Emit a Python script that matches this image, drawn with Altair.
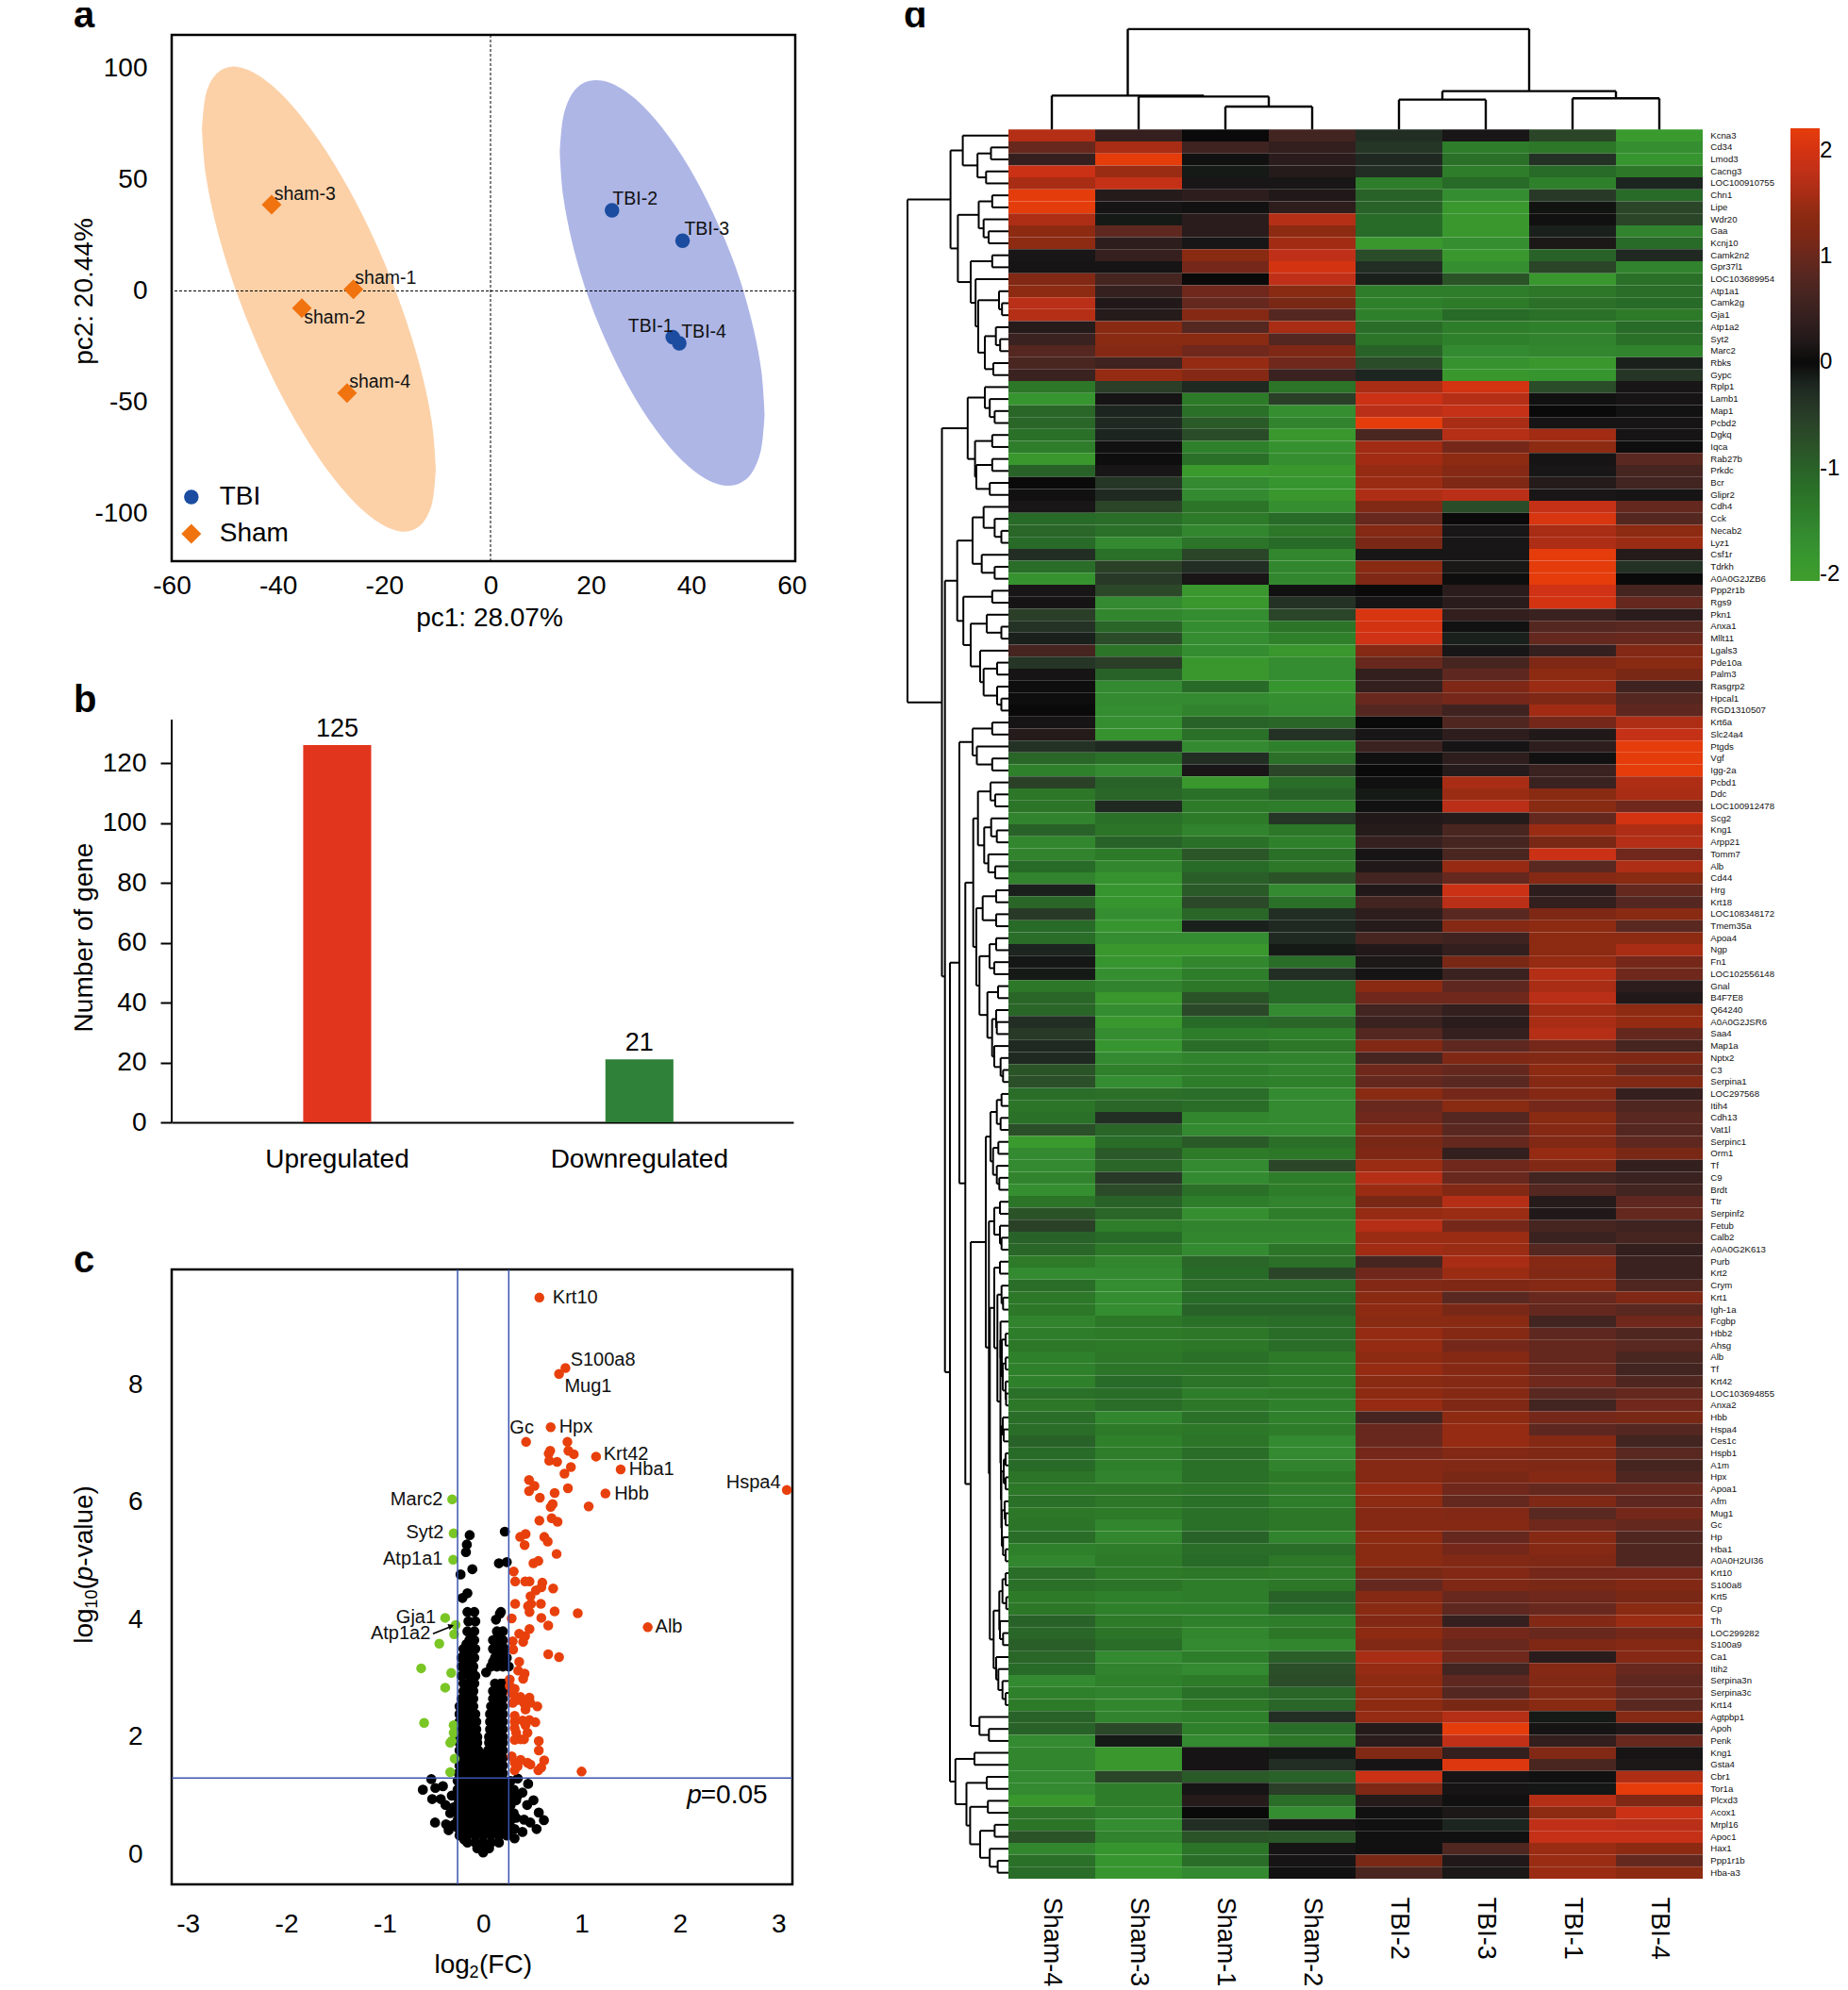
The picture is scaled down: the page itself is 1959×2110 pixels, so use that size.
import altair as alt
import pandas as pd

FONT = "Liberation Sans"

# ---------- panel a ----------
pca_names = ["sham-1", "sham-2", "sham-3", "sham-4", "TBI-1", "TBI-2", "TBI-3", "TBI-4"]
pca_x = [-25.8, -35.5, -41.2, -27.0, 36.3, 24.2, 38.25, 37.6]
pca_y = [0.7, -7.8, 38.8, -46.0, -20.8, 36.3, 22.6, -23.6]
pca_lab_x = [-25.5, -35.1, -40.7, -26.6, 27.4, 24.3, 38.6, 38.0]
pca_lab_y = [5.7, -12.0, 43.5, -40.9, -15.9, 41.2, 27.8, -18.3]

sham_ell_x = [-54.3, -53.55, -51.35, -47.85, -43.3, -38.0, -32.3, -26.6, -21.3, -16.75, -13.25, -11.05, -10.3]
sham_ell_top = [72.7, 88.6, 98.2, 100.9, 96.4, 85.2, 67.8, 45.6, 20.0, -7.2, -34.1, -59.0, -80.1]
sham_ell_bot = [72.7, 51.6, 26.7, -0.25, -27.4, -53.0, -75.2, -92.6, -103.8, -108.3, -105.6, -96.0, -80.1]
tbi_ell_x = [13.8, 14.5, 16.5, 19.7, 24.0, 28.9, 34.2, 39.5, 44.4, 48.7, 51.9, 53.9, 54.6]
tbi_ell_top = [62.4, 78.5, 89.5, 94.5, 93.5, 86.3, 73.4, 55.8, 34.7, 11.5, -12.4, -35.1, -55.2]
tbi_ell_bot = [62.4, 42.3, 19.6, -4.3, -27.5, -48.6, -66.2, -79.1, -86.3, -87.3, -82.3, -71.3, -55.2]

# ---------- panel b ----------
bar_cats = ["Upregulated", "Downregulated"]
bar_vals = [126, 21]
bar_labels = ["125", "21"]
bar_cols = ["#E2351E", "#2F8139"]

# ---------- panel c ----------
red_names = ["Krt10", "S100a8", "Mug1", "Hpx", "Gc", "Krt42", "Hba1", "Hbb", "Hspa4", "Alb"]
red_lab_x = [0.706, 0.886, 0.826, 0.771, 0.27, 1.222, 1.482, 1.332, 2.469, 1.748]
red_lab_y = [9.49, 8.43, 7.97, 7.28, 7.27, 6.82, 6.56, 6.15, 6.34, 3.87]
red_x = [0.571, 0.836, 0.771, 0.686, 0.436, 1.147, 1.397, 1.242, 3.085, 1.672,
         0.856, 0.681, 0.666, 0.866, 0.921, 0.671, 0.751, 0.891, 0.826, 0.466, 0.521, 0.466, 0.726, 0.861, 0.576,
         0.706, 0.686, 1.072, 0.571, 0.696, 0.756, 0.431, 0.376, 0.421, 0.621, 0.656, 0.746, 0.561, 0.511, 0.31,
         0.325, 0.426, 0.471, 0.601, 0.591, 0.536, 0.711, 0.481, 0.325, 0.456, 0.486, 0.586, 0.471, 0.726, 0.961,
         0.29, 0.591, 0.661, 0.471, 0.366, 0.426, 0.30, 0.406, 0.305, 0.661, 0.771, 0.366, 0.356, 0.421, 0.406,
         0.27, 0.27, 0.32, 0.29, 0.335, 0.35, 0.30, 0.38, 0.47, 0.415, 0.48, 0.55, 0.43, 0.32, 0.32, 0.40, 0.47,
         0.53, 0.32, 0.43, 0.45, 0.38, 0.32, 0.335, 0.415, 0.565, 0.565, 0.29, 0.32, 0.38, 0.45, 0.48, 0.62, 0.59,
         0.56, 0.32, 0.35, 1.0]
red_y = [9.49, 8.29, 8.19, 7.28, 7.03, 6.78, 6.56, 6.15, 6.21, 3.87,
         7.03, 6.88, 6.83, 6.88, 6.82, 6.71, 6.69, 6.60, 6.49, 6.38, 6.28, 6.19, 6.16, 6.24, 6.08,
         5.97, 5.92, 5.93, 5.69, 5.73, 5.67, 5.46, 5.41, 5.27, 5.41, 5.33, 5.12, 5.0, 4.96, 4.82,
         4.65, 4.65, 4.65, 4.63, 4.55, 4.50, 4.53, 4.40, 4.27, 4.23, 4.27, 4.27, 4.13, 4.14, 4.11,
         4.02, 4.03, 3.90, 3.84, 3.76, 3.72, 3.63, 3.62, 3.49, 3.41, 3.36, 3.28, 3.13, 3.08, 2.99,
         2.98, 2.87, 2.82, 2.74, 2.68, 2.63, 2.58, 2.68, 2.67, 2.58, 2.58, 2.52, 2.47, 2.36, 2.26, 2.28, 2.29,
         2.25, 2.15, 2.2, 2.07, 1.96, 1.95, 2.07, 1.96, 1.93, 1.77, 1.67, 1.56, 1.61, 1.56, 1.53, 1.6, 1.48,
         1.43, 1.43, 1.5, 1.41]
green_x = [-0.315, -0.30, -0.305, -0.386, -0.28, -0.295, -0.446, -0.63, -0.325, -0.386, -0.60, -0.30, -0.30, -0.32, -0.335, -0.29, -0.335]
green_y = [6.05, 5.47, 5.02, 4.03, 3.91, 3.75, 3.59, 3.17, 3.09, 2.84, 2.24, 2.2, 2.07, 1.93, 1.9, 1.63, 1.4]
green_names = ["Marc2", "Syt2", "Atp1a1", "Gja1", "Atp1a2"]
green_lab_x = [-0.41, -0.40, -0.41, -0.48, -0.536]
green_lab_y = [6.05, 5.49, 5.04, 4.04, 3.76]

black_rows = [
    (0.03, [0.0]),
    (0.10, [-0.06, 0.0, 0.06]),
    (0.20, [-0.16, -0.08, 0.0, 0.08, 0.16]),
    (0.32, [-0.24, -0.16, -0.08, 0.0, 0.08, 0.16, 0.24]),
    (0.45, [-0.26, -0.18, -0.10, -0.02, 0.06, 0.14, 0.22, 0.28]),
    (0.58, [-0.26, -0.18, -0.10, -0.02, 0.06, 0.14, 0.22, 0.28]),
    (0.71, [-0.26, -0.18, -0.10, -0.02, 0.06, 0.14, 0.22, 0.28]),
    (0.84, [-0.26, -0.18, -0.10, -0.02, 0.06, 0.14, 0.22, 0.28]),
    (0.97, [-0.26, -0.18, -0.10, -0.02, 0.06, 0.14, 0.22, 0.28]),
    (1.10, [-0.26, -0.18, -0.10, -0.02, 0.06, 0.14, 0.22, 0.28]),
    (1.25, [-0.26, -0.18, -0.10, -0.02, 0.06, 0.14, 0.22, 0.28]),
    (1.38, [-0.25, -0.18, -0.10, -0.02, 0.06, 0.14, 0.20]),
    (1.51, [-0.24, -0.18, -0.10, -0.02, 0.06, 0.14, 0.20]),
    (1.64, [-0.24, -0.18, -0.10, -0.02, 0.06, 0.14, 0.20]),
    (1.77, [-0.24, -0.17, -0.10, -0.05, 0.05, 0.12, 0.20]),
    (1.90, [-0.24, -0.17, -0.10, -0.06, 0.06, 0.12, 0.20]),
    (2.00, [-0.24, -0.17, -0.10, -0.06, 0.06, 0.13, 0.20]),
    (2.13, [-0.24, -0.17, -0.10, -0.07, 0.07, 0.13, 0.20]),
    (2.26, [-0.24, -0.17, -0.10, -0.07, 0.07, 0.13, 0.20]),
    (2.39, [-0.24, -0.17, -0.10, -0.08, 0.07, 0.13, 0.20]),
    (2.52, [-0.24, -0.17, -0.10, 0.08, 0.14, 0.20]),
    (2.65, [-0.22, -0.16, -0.10, 0.10, 0.16, 0.20]),
    (2.78, [-0.20, -0.14, -0.10, 0.10, 0.16, 0.20]),
    (2.91, [-0.20, -0.14, -0.09, 0.12, 0.18, 0.22]),
    (3.04, [-0.22, -0.14, -0.08]),
    (3.20, [-0.22, -0.15, -0.10, 0.08, 0.14, 0.20, 0.26]),
    (3.35, [-0.22, -0.16, -0.09, 0.12, 0.18, 0.24]),
    (3.50, [-0.20, -0.13, -0.08, 0.10, 0.16, 0.22]),
    (3.65, [-0.14, -0.09, 0.10, 0.17, 0.20]),
    (3.80, [-0.16, -0.09, 0.14, 0.20]),
    (3.97, [-0.15, -0.08]),
    (4.13, [-0.16, -0.09, 0.18]),
    # staggered rows between the ones above
    (0.39, [-0.22, -0.14, -0.06, 0.02, 0.10, 0.18, 0.26]),
    (0.52, [-0.22, -0.14, -0.06, 0.02, 0.10, 0.18, 0.25]),
    (0.65, [-0.22, -0.14, -0.06, 0.02, 0.10, 0.18, 0.25]),
    (0.78, [-0.22, -0.14, -0.06, 0.02, 0.10, 0.18, 0.25]),
    (0.91, [-0.22, -0.14, -0.06, 0.02, 0.10, 0.18, 0.25]),
    (1.04, [-0.22, -0.14, -0.06, 0.02, 0.10, 0.18, 0.25]),
    (1.18, [-0.22, -0.14, -0.06, 0.02, 0.10, 0.18, 0.25]),
    (1.31, [-0.22, -0.14, -0.06, 0.02, 0.10, 0.18]),
    (1.45, [-0.21, -0.14, -0.06, 0.02, 0.10, 0.18]),
    (1.58, [-0.21, -0.14, -0.06, 0.02, 0.10, 0.18]),
    (1.71, [-0.21, -0.14, -0.07, 0.03, 0.09, 0.17]),
    (1.84, [-0.20, -0.13, -0.08, 0.09, 0.16]),
    (2.07, [-0.20, -0.13, 0.10, 0.17]),
    (2.20, [-0.20, -0.13, 0.10, 0.17]),
    (2.33, [-0.20, -0.13, 0.10, 0.17]),
    (2.46, [-0.20, -0.13, 0.11, 0.17]),
    (2.59, [-0.20, -0.13, 0.12, 0.18]),
    (2.72, [-0.18, -0.12, 0.13, 0.18]),
    (2.85, [-0.17, -0.12, 0.15, 0.20]),
    (3.12, [-0.18, -0.11]),
    (3.28, [-0.19, -0.12, 0.10, 0.16, 0.22]),
    (3.43, [-0.19, -0.12, 0.14, 0.20]),
    (3.58, [-0.17, -0.11, 0.13, 0.19]),
    (3.72, [-0.12, 0.15]),
]
black_x = [-0.527, -0.613, -0.486, -0.409, -0.518, -0.431, -0.383, -0.319, -0.335, -0.489, -0.377, -0.351, -0.192,
           0.319, 0.399, 0.319, 0.415, 0.543, 0.617, 0.565, 0.511, 0.447, 0.399, 0.457, 0.351, 0.335, 0.335, 0.479,
           -0.30, -0.30, 0.31, 0.31, 0.35, 0.03,
           -0.21, -0.16, -0.23, -0.11, -0.175, -0.166, -0.137, 0.22, 0.16, 0.24, 0.13, 0.17]
black_y = [1.28, 1.10, 1.13, 1.16, 0.94, 0.94, 0.84, 1.0, 0.70, 0.54, 0.51, 0.41, 0.25,
           0.27, 0.38, 0.43, 0.59, 0.43, 0.58, 0.71, 0.92, 0.84, 1.05, 1.2, 1.29, 0.92, 0.62, 0.54,
           0.8, 0.5, 0.7, 1.1, 1.0, 3.1,
           4.37, 4.45, 4.77, 4.86, 5.15, 5.28, 5.44, 5.5, 4.96, 4.98, 4.0, 4.1]
vlines = [-0.26, 0.26]
p_line = [1.3]

# ---------- panel d ----------
samples = ["Sham-4", "Sham-3", "Sham-1", "Sham-2", "TBI-2", "TBI-3", "TBI-1", "TBI-4"]
genes = """Kcna3 Cd34 Lmod3 Cacng3 LOC100910755 Chn1 Lipe Wdr20 Gaa Kcnj10 Camk2n2 Gpr37l1 LOC103689954 Atp1a1 Camk2g Gja1 Atp1a2 Syt2 Marc2 Rbks Gypc
Rplp1 Lamb1 Map1 Pcbd2 Dgkq Iqca Rab27b Prkdc Bcr Glipr2 Cdh4 Cck Necab2 Lyz1 Csf1r Tdrkh A0A0G2JZB6 Ppp2r1b Rgs9 Pkn1 Anxa1 Mllt11 Lgals3 Pde10a Palm3 Rasgrp2 Hpcal1 RGD1310507 Krt6a Slc24a4 Ptgds Vgf Igg-2a
Pcbd1 Ddc LOC100912478 Scg2 Kng1 Arpp21 Tomm7 Alb Cd44 Hrg Krt18 LOC108348172 Tmem35a Apoa4 Ngp Fn1 LOC102556148 Gnal B4F7E8 Q64240 A0A0G2JSR6 Saa4 Map1a Nptx2 C3 Serpina1 LOC297568 Itih4 Cdh13 Vat1l Serpinc1
Orm1 Tf C9 Brdt Ttr Serpinf2 Fetub Calb2 A0A0G2K613 Purb Krt2 Crym Krt1 Igh-1a Fcgbp Hbb2 Ahsg Alb Tf Krt42 LOC103694855 Anxa2 Hbb Hspa4 Ces1c Hspb1 A1m Hpx Apoa1 Afm Mug1
Gc Hp Hba1 A0A0H2UI36 Krt10 S100a8 Krt5 Cp Th LOC299282 S100a9 Ca1 Itih2 Serpina3n Serpina3c Krt14 Agtpbp1 Apoh Penk Kng1 Gsta4 Cbr1 Tor1a Plcxd3 Acox1 Mrpl16 Apoc1 Hax1 Ppp1r1b Hba-a3""".split()

heat_rows = [
[1.7,.45,0,.6,-.3,.1,-.6,-1.9],[1.0,1.6,.55,.4,-.4,-1.4,-1.3,-1.7],[.45,2.2,.05,.3,-.25,-1.2,-.35,-1.8],
[1.9,1.5,-.1,.25,-.3,-1.4,-1.1,-1.3],[1.6,1.85,.1,.1,-1.4,-1.1,-1.45,-.2],[2.2,.25,.35,.2,-1.0,-1.65,-.45,-1.1],
[2.2,.08,.05,.35,-1.0,-1.85,-.05,-.6],[1.65,-.1,.3,1.7,-1.1,-1.85,.05,-.6],[1.4,.9,.3,1.4,-1.1,-1.85,-.15,-1.5],
[1.4,.35,.1,1.55,-1.85,-1.7,.15,-1.1],[.1,.45,1.35,1.8,-.7,-1.85,-1.0,-.25],[.08,.08,1.1,2.0,-.3,-1.7,-.6,-1.5],
[1.25,.65,0,1.8,-.15,-.8,-1.85,-1.2],[1.4,.45,1.05,1.35,-1.4,-1.4,-1.3,-1.15],[1.75,.2,.95,1.15,-1.45,-1.35,-1.2,-1.1],
[1.7,.25,1.3,.8,-1.45,-1.1,-1.2,-1.35],[.25,1.35,.8,1.6,-1.15,-1.4,-1.45,-1.1],[.5,1.35,1.35,.8,-1.25,-1.45,-1.5,-1.2],
[.8,1.3,1.05,1.2,-1.0,-1.6,-1.55,-1.5],[.7,.55,1.45,1.05,-.7,-1.75,-1.85,-.15],[.5,1.45,1.3,.5,-.2,-1.85,-1.8,-.4],
# Rplp1
[-1.3,-.5,-.25,-1.25,1.6,2.0,-.7,.1],[-1.8,.08,-1.35,-.5,1.9,1.7,.05,.08],[-1.05,-.2,-1.2,-1.7,1.75,1.85,0,.06],
[-1.05,-.25,-.9,-1.5,2.2,1.6,.08,.08],[-1.2,-.2,-.7,-1.85,.7,1.7,1.55,.08],[-1.4,.05,-1.45,-1.75,1.55,1.1,1.4,.03],
[-1.85,.03,-1.2,-1.7,1.55,1.4,.08,.85],[-1.0,.1,-1.9,-1.85,1.45,1.3,.1,.65],[0,-.4,-1.6,-1.8,1.5,1.2,.25,.6],
[.05,-.25,-1.6,-1.85,1.65,1.75,.1,.08],[.1,-.6,-1.25,-1.7,1.25,-.7,1.85,.95],[-1.1,-1.15,-1.35,-1.1,1.0,0,2.05,.8],
[-1.05,-1.2,-1.55,-1.3,1.3,.1,1.6,1.4],[-1.1,-1.6,-1.25,-1.1,1.15,.1,1.65,1.5],[-.3,-1.2,-.6,-1.55,.1,.1,2.2,.25],
[-1.15,-.55,-.3,-1.55,1.35,.12,2.2,-.35],[-1.75,-.45,.1,-1.55,1.2,.03,2.2,0],[.1,-.65,-1.85,.05,0,.3,1.95,.65],
[.08,-1.6,-1.85,-.35,.08,.3,2.0,.95],[-.5,-1.55,-1.65,-.6,2.05,.4,.5,.3],[-.35,-1.05,-1.65,-1.25,2.0,.05,.8,.85],
[-.15,-.7,-1.65,-1.45,1.95,-.15,.95,1.0],[.65,-1.25,-1.65,-1.85,1.3,.1,.45,1.25],[-.4,-.5,-1.85,-1.65,1.0,.65,1.2,1.35],
[.08,-1.0,-1.85,-1.65,.4,.9,1.4,1.15],[.03,-1.6,-1.1,-1.8,.4,1.2,1.5,.55],[.03,-1.6,-1.6,-1.7,1.0,1.1,1.2,.8],
[0,-1.65,-1.5,-1.65,.8,.55,1.55,.9],[.08,-1.7,-1.0,-1.05,0,.75,1.1,1.65],[.25,-1.75,-1.2,-.35,.1,.35,.2,1.85],
[-.35,-.25,-1.6,-1.45,.5,.08,.35,2.2],[-1.05,-1.2,-.3,-1.2,.05,.35,.05,2.2],[-1.45,-1.6,.1,-.6,0,.25,.5,2.2],
# Pcbd1
[-.55,-1.0,-1.85,-1.15,.05,1.6,.5,1.65],[-1.3,-1.05,-1.2,-1.0,-.1,1.5,1.35,1.6],[-1.25,-.25,-1.35,-1.4,.05,1.75,1.35,1.05],
[-1.5,-1.2,-1.35,-.4,.2,.25,.95,2.0],[-1.0,-1.25,-1.5,-1.3,.25,.7,1.5,1.65],[-1.55,-1.0,-1.2,-1.45,.45,.65,1.15,1.7],
[-1.5,-1.35,-.85,-1.2,.08,.7,1.9,1.05],[-1.1,-1.55,-1.1,-1.3,.2,1.45,.85,1.65],[-1.5,-1.75,-.95,-.8,.6,.95,1.3,1.35],
[-.15,-1.8,-.9,-1.6,.2,1.9,.35,.95],[-1.05,-1.8,-.65,-1.2,.6,1.75,.4,.8],[-.45,-1.7,-1.05,-.3,.35,.85,1.2,1.35],
[-1.1,-1.8,-.15,-.25,.25,1.3,1.4,.85],[-1.15,-1.65,-1.65,-.25,.65,.55,1.4,1.4],[-.2,-1.85,-1.85,-.1,.2,.4,1.4,1.6],
[-.08,-1.8,-1.55,-1.15,.15,1.15,1.45,1.1],[-.1,-1.7,-1.4,-.3,.08,.5,1.7,1.05],[-1.3,-1.5,-1.3,-1.1,1.35,.9,1.6,.35],
[-1.05,-1.85,-.8,-1.1,1.05,1.05,1.75,.2],[-1.05,-1.65,-.65,-1.6,.6,.4,1.55,1.4],[-.3,-1.85,-1.1,-1.05,.5,.3,1.6,1.45],
[-.45,-1.65,-1.4,-1.45,.8,.45,1.7,.95],[-.25,-1.8,-1.15,-1.3,1.25,.9,1.1,.65],[-.25,-1.6,-1.5,-1.5,.65,1.2,1.25,1.2],
[-.8,-1.45,-1.4,-1.5,1.05,.95,1.4,.95],[-.75,-1.65,-1.4,-1.45,.95,.85,1.3,1.25],[-1.15,-1.2,-1.15,-1.6,1.35,1.1,1.3,.45],
[-1.25,-1.05,-1.15,-1.6,1.0,1.35,1.1,.75],[-1.2,-.3,-1.55,-1.6,1.05,.8,1.35,.85],[-.75,-1.05,-1.6,-1.6,1.2,.85,1.3,.8],
[-1.9,-1.15,-.9,-1.2,1.15,.95,1.25,.9],
# Orm1
[-1.6,-.9,-1.35,-1.3,1.2,.4,1.45,1.15],[-1.6,-1.05,-1.6,-.6,1.5,1.05,1.25,.4],[-1.5,-.45,-1.6,-1.4,1.7,1.0,.6,.5],
[-1.7,-.7,-1.2,-1.4,1.5,1.25,.8,.6],[-1.25,-1.0,-1.4,-1.5,1.15,1.7,.25,.9],[-.8,-1.05,-1.7,-1.4,1.45,1.5,.2,.95],
[-.55,-1.4,-1.5,-1.5,1.7,1.1,.65,.55],[-1.0,-1.1,-1.55,-1.55,1.5,1.5,.5,.65],[-1.05,-1.3,-1.6,-1.25,1.55,1.5,.8,.4],
[-1.35,-1.55,-1.05,-1.2,.65,1.6,1.3,.5],[-1.6,-1.6,-1.1,-.6,1.05,1.5,1.25,.5],[-1.15,-1.65,-1.15,-1.15,1.25,1.2,1.3,.75],
[-1.3,-1.65,-1.1,-1.1,1.35,.85,1.0,1.2],[-1.3,-1.65,-1.0,-1.0,1.4,1.15,.95,.85],[-1.5,-1.3,-1.2,-1.15,1.35,1.35,.6,1.05],
[-1.4,-1.35,-1.3,-1.15,1.45,1.3,.9,.75],[-1.3,-1.35,-1.3,-1.15,1.45,1.1,.95,.85],[-1.45,-1.3,-1.2,-1.35,1.4,1.3,.95,.7],
[-1.45,-1.25,-1.25,-1.35,1.45,1.3,1.0,.6],[-1.45,-1.1,-1.25,-1.35,1.35,1.3,1.05,.75],[-1.2,-1.15,-1.4,-1.35,1.4,1.3,.85,.95],
[-1.3,-1.15,-1.3,-1.45,1.45,1.2,.6,1.05],[-1.15,-1.55,-1.2,-1.45,.65,1.4,1.1,1.15],[-1.15,-1.35,-1.3,-1.4,1.0,1.45,.9,.8],
[-1.0,-1.45,-1.25,-1.6,1.0,1.45,1.3,.6],[-1.1,-1.4,-1.15,-1.6,1.1,1.25,1.2,.85],[-1.1,-1.45,-1.2,-1.5,1.3,1.25,1.2,.65],
[-1.25,-1.5,-1.2,-1.35,1.3,1.15,1.3,.75],[-1.3,-1.3,-1.25,-1.4,1.45,1.05,.95,1.0],[-1.2,-1.3,-1.2,-1.4,1.4,.95,1.2,.9],
[-1.3,-1.35,-1.2,-1.3,1.3,1.25,.85,1.1],
# Gc
[-1.25,-1.55,-1.2,-1.3,1.3,1.3,1.05,.95],[-1.15,-1.55,-1.0,-1.5,1.4,.95,1.3,.75],[-1.45,-1.4,-1.15,-1.15,1.35,1.1,1.3,.75],
[-1.55,-1.35,-1.1,-1.3,1.35,1.25,1.2,.75],[-1.15,-1.35,-1.3,-1.35,1.15,1.25,1.1,1.1],[-1.2,-1.25,-1.4,-1.3,.95,1.2,1.15,1.25],
[-1.35,-1.45,-1.4,-1.0,1.3,1.0,1.05,1.15],[-1.3,-1.45,-1.45,-1.1,1.35,.9,1.0,1.35],[-1.0,-1.35,-1.45,-1.4,1.25,.45,1.25,1.5],
[-1.05,-1.25,-1.55,-1.3,1.4,1.1,1.0,1.1],[-.95,-1.15,-1.6,-1.55,1.25,1.0,1.2,1.3],[-1.05,-1.6,-1.4,-.95,1.6,1.05,.3,1.3],
[-1.1,-1.5,-1.6,-.75,1.45,.6,1.3,1.0],[-1.6,-1.45,-1.35,-.7,1.4,.9,1.25,.9],[-1.45,-1.5,-1.2,-1.05,1.4,.8,1.25,.95],
[-1.35,-1.55,-1.3,-1.05,1.4,1.15,1.35,.85],[-1.0,-1.5,-1.45,-.3,1.45,1.7,-.1,1.3],[-1.0,-.65,-1.45,-1.15,.25,2.2,.08,.2],
[-1.6,-.1,-1.6,-1.3,.3,1.8,.4,1.0],[-1.55,-1.85,.08,-.1,1.25,.4,1.25,.08],[-1.55,-1.85,.08,-.3,.08,2.1,.7,.15],
[-1.6,-.6,-.9,-1.0,1.9,.08,.05,1.65],[-1.6,-1.4,.08,-.5,1.2,.08,-.08,2.2],[-1.85,-1.4,.25,-1.15,.25,.05,1.7,1.2],
[-1.25,-1.45,0,-1.65,.05,.15,1.4,1.9],[-1.25,-1.65,-.3,.08,.05,-.2,1.8,1.75],[-.8,-1.5,-.8,-.85,.05,.05,1.85,1.85],
[-1.55,-1.8,-1.25,.08,.05,.75,1.5,1.4],[-1.2,-1.8,-1.15,.08,1.15,.2,1.5,.95],[-1.15,-1.8,-1.6,.05,.7,.15,1.5,1.4],
]
assert len(genes) == 146 and len(heat_rows) == 146

color_stops = [-2.06, -1.9, -1.6, -1.35, -1.1, -0.9, -0.5, -0.3, -0.15, 0, 0.1, 0.3, 0.5, 0.7, 0.9, 1.15, 1.4, 1.6, 1.8, 2.0, 2.21]
color_values = ["#3F9D2C", "#3A9A2E", "#338A30", "#2D7A28", "#286A28", "#2A5A28", "#2A3E28", "#222E24", "#1A201C", "#0A0A0A",
                "#181616", "#2A1C1C", "#3A2220", "#4A2620", "#5E2820", "#7A2816", "#8D2A12", "#A82D14", "#C03018", "#D43312", "#E63C0C"]

# dendrograms: (height, child, child); a plain int is a leaf position
top_tree = (8.38, (2.83, 0, (2.75, 1, (1.91, 2, 3))), (3.2, (2.49, 4, 5), (2.6, 6, 7)))

sec_a = (61.4, (48.4, 0, (32.8, (18.5, 1, 2), (23.7, 3, 4))),
         (53.6, (31.5, (17.2, 5, 6), (26.3, 7, (21, 8, 9))),
          (40, (17.2, 10, 11), (34.8, 12, (32, (10, 13, (6.8, 14, 15)),
                                           (25, (13.3, 16, (8.8, 17, 18)), (16, 19, 20)))))))
sec_b = (43.2, (25, 21, (19.8, 22, (14.6, 23, 24))), (35.4, (17.2, 25, 26), (34, (17.2, 27, 28), (19.8, 29, 30))))
sec_c = (54.3, (38, (26.3, 31, (14.6, 32, (7.5, 33, 34))), (28.3, 35, (14.6, 36, 37))),
         (47.8, (17.2, 38, 39), (40, (23, 40, (7.5, 41, 42)),
                                 (30, 43, (26.3, (12, 44, 45), (12, 46, (7.5, 47, 48)))))))
sec_d = (38, (17.2, 49, 50), (33.5, 51, (17.2, 52, 53)))
sec_u = (32.3, (19, 54, (14, 55, 56)), (25.7, (18.3, 57, (12.3, 58, 59)), (21.3, 60, (14, 61, 62))))
sec_v = (34, (27.3, (13, 63, 64), (13, 65, 66)),
         (30.7, (20, (13, 67, 68), (15, 69, 70)),
          (22.3, (11, 71, 72), (17.3, (13, 73, (12.3, 74, 75)), (15, 76, (8.3, 77, (5.7, 78, 79)))))))
sec_m1 = (19, (12.3, (7.3, 80, 81), (8.3, 82, 83)), (16.3, (10.7, 84, 85), (12.3, 86, (9.7, 87, 88))))
sec_a2 = (15, (9, 89, 90), (9, 91, (7.3, 92, 93)))
sec_l = (8.5, (8.4, 99, (7, (3, 100, 101), (6, (3, 102, 103), (3, 104, (2.5, 105, 106))))),
         (8, (6, 107, (5, 108, 109)),
          (7.5, (5, (3, 110, 111), (3, 112, 113)), (7, (4, 114, (3, 115, 116)), (5.7, 117, (3, 118, 119))))))
sec_b1 = (15, (9, 94, 95), (11.7, (7.3, 96, (5.7, 97, 98)), sec_l))
sec_b2 = (15.7, (9.7, (6.3, (3, 120, 121), (2.3, 122, 123)), (9, 124, (5.7, 125, 126))),
          (13, 127, (10.7, 128, (6.3, 129, (3, 130, 131)))))
sec_q = (20.7, sec_a2, (19.7, sec_b1, sec_b2))
sec_tail = (30.7, 132, (20.7, 133, 134))
sec_c2 = (40, (24, sec_m1, sec_q), sec_tail)
sec_bottom = (56.2, (36, 135, 136),
              (44.5, (23, 137, 138), (40.6, (21.8, 139, 140), (30, (14.6, 141, 142), (19.8, 143, (11.4, 144, 145))))))
left_tree = (107, sec_a, (70.5, sec_b, (67.3, sec_c, (62, (52, sec_d, (45.7, (37.3, sec_u, sec_v), sec_c2)), sec_bottom))))
CELL_W = 92.0


def walk(node, segs):
    """returns (position, height); collects segments (pos1, pos2, h1, h2)."""
    if isinstance(node, int):
        return node + 0.5, 0.0
    h, a, b = node
    pa, ha = walk(a, segs)
    pb, hb = walk(b, segs)
    segs.append((pa, pb, h, h))
    segs.append((pa, pa, ha, h))
    segs.append((pb, pb, hb, h))
    return (pa + pb) / 2, h


top_segs, left_segs = [], []
walk(top_tree, top_segs)
walk(left_tree, left_segs)
top_df = pd.DataFrame([dict(x=s[0], x2=s[1], y=-s[2], y2=-s[3]) for s in top_segs])
left_df = pd.DataFrame([dict(y=s[0], y2=s[1], x=-s[2] / CELL_W, x2=-s[3] / CELL_W) for s in left_segs])


def letter(t, px, py):
    return alt.Chart(pd.DataFrame({"t": [t]})).mark_text(
        font=FONT, fontSize=40, fontWeight="bold", align="left", baseline="alphabetic", color="black"
    ).encode(x=alt.value(px), y=alt.value(py), text="t:N")


def title_text(t, px, py, angle=0):
    return alt.Chart(pd.DataFrame({"t": [t]})).mark_text(
        font=FONT, fontSize=28, align="center", baseline="middle", color="black", angle=angle
    ).encode(x=alt.value(px), y=alt.value(py), text="t:N")


def num_axis(values, pad):
    return alt.Axis(values=values, title=None, grid=False, ticks=False, domain=False, labelFont=FONT,
                    labelFontSize=28, labelColor="black", labelPadding=pad, labelExpr="'' + datum.value",
                    labelOverlap=False, labelFlush=False, labelBound=False)


frame = alt.ViewBackground(stroke="black", strokeWidth=2.5)

# ---------- panel a chart ----------
sxa = alt.Scale(domain=[-60, 0, 60.7], range=[0, 338, 661], nice=False, zero=False)
sya = alt.Scale(domain=[-121.6, 115.2], nice=False, zero=False)
axa_x = num_axis([-60, -40, -20, 0, 20, 40, 60], 12)
axa_y = num_axis([-100, -50, 0, 50, 100], 26)
ell = lambda xs, t, b, col: alt.Chart(pd.DataFrame({"x": xs, "t": t, "b": b})).mark_area(
    color=col, opacity=1, interpolate="cardinal").encode(
    x=alt.X("x:Q", scale=sxa, axis=axa_x),
    y=alt.Y("t:Q", scale=sya, axis=axa_y), y2="b:Q")
pca_df = pd.DataFrame({"n": pca_names, "x": pca_x, "y": pca_y, "lx": pca_lab_x, "ly": pca_lab_y,
                       "g": ["Sham"] * 4 + ["TBI"] * 4})
xa = alt.X("x:Q", scale=sxa, axis=axa_x)
ya = alt.Y("y:Q", scale=sya, axis=axa_y)
ha = alt.Chart(pd.DataFrame({"y": [0]})).mark_rule(color="black", strokeDash=[3, 2], strokeWidth=1).encode(y=ya)
va = alt.Chart(pd.DataFrame({"x": [0]})).mark_rule(color="black", strokeDash=[3, 2], strokeWidth=1).encode(x=xa)
sham_pts = alt.Chart(pca_df[pca_df.g == "Sham"]).mark_point(shape="diamond", filled=True, size=441, color="#F0730F", opacity=1).encode(x=xa, y=ya)
tbi_pts = alt.Chart(pca_df[pca_df.g == "TBI"]).mark_circle(size=240, color="#1B4CA0", opacity=1).encode(x=xa, y=ya)
pca_txt = alt.Chart(pca_df).mark_text(font=FONT, fontSize=19.5, align="left", baseline="middle", color="#111").encode(
    x=alt.X("lx:Q", scale=sxa, axis=axa_x), y=alt.Y("ly:Q", scale=sya, axis=axa_y), text="n:N")
leg_df = pd.DataFrame({"n": ["TBI", "Sham"], "x": [-56.3, -56.3], "y": [-92.7, -109.3], "lx": [-51, -51]})
leg_c = alt.Chart(leg_df[leg_df.n == "TBI"]).mark_circle(size=240, color="#1B4CA0", opacity=1).encode(x=xa, y=ya)
leg_d = alt.Chart(leg_df[leg_df.n == "Sham"]).mark_point(shape="diamond", filled=True, size=441, color="#F0730F", opacity=1).encode(x=xa, y=ya)
leg_t = alt.Chart(leg_df).mark_text(font=FONT, fontSize=28, align="left", baseline="middle", color="black").encode(
    x=alt.X("lx:Q", scale=sxa, axis=axa_x), y=ya, text="n:N")
panel_a = alt.layer(
    ell(sham_ell_x, sham_ell_top, sham_ell_bot, "#FCD1A8"),
    ell(tbi_ell_x, tbi_ell_top, tbi_ell_bot, "#AEB6E6"),
    ha, va, sham_pts, tbi_pts, pca_txt, leg_c, leg_d, leg_t,
    title_text("pc1: 28.07%", 337, 619), title_text("pc2: 20.44%", -92, 272, 270),
    letter("a", -104, -8),
).properties(width=661, height=558, view=frame)

# ---------- panel b chart ----------
B_TOP = 138.3
syb = alt.Scale(domain=[0, B_TOP], nice=False, zero=False)
sxb = alt.Scale(domain=bar_cats, paddingInner=0.775, paddingOuter=0.416, align=0.523)
axb_x = alt.Axis(title=None, ticks=False, domainColor="black", domainWidth=2, labelAngle=0, labelFont=FONT,
                 labelFontSize=28, labelColor="black", labelPadding=25, labelLimit=600, grid=False)
axb_y = alt.Axis(values=list(range(0, 121, 20)), title=None, tickColor="black", tickWidth=2, tickSize=12,
                 domain=False, labelFont=FONT, labelFontSize=28, labelColor="black", labelPadding=15, grid=False)
bar_df = pd.DataFrame({"c": bar_cats, "v": bar_vals, "l": bar_labels, "col": bar_cols})
bars = alt.Chart(bar_df).mark_bar().encode(
    x=alt.X("c:N", scale=sxb, sort=bar_cats, axis=axb_x),
    y=alt.Y("v:Q", scale=syb, axis=axb_y),
    color=alt.Color("col:N", scale=None),
)
y_spine = alt.Chart(pd.DataFrame({"y": [0], "y2": [134.5]})).mark_rule(color="black", strokeWidth=2).encode(
    x=alt.value(0), y=alt.Y("y:Q", scale=syb, axis=axb_y), y2="y2:Q")
bar_txt = alt.Chart(bar_df).mark_text(font=FONT, fontSize=27, baseline="bottom", dy=-3, color="black").encode(
    x=alt.X("c:N", scale=sxb, sort=bar_cats, axis=axb_x), y=alt.Y("v:Q", scale=syb, axis=axb_y), text="l:N")
panel_b = alt.layer(bars, y_spine, bar_txt, title_text("Number of gene", -92, 243, 270), letter("b", -104, 4)).properties(width=659, height=439)

# ---------- panel c chart ----------
sxc = alt.Scale(domain=[-3.165, 3.142], nice=False, zero=False)
syc = alt.Scale(domain=[-0.514, 9.97], nice=False, zero=False)
all_bx, all_by = [], []
for yy, xs in black_rows:
    for xx in xs:
        all_bx.append(xx)
        all_by.append(yy)
all_bx += black_x
all_by += black_y
xc = alt.X("x:Q", scale=sxc, axis=num_axis([-3, -2, -1, 0, 1, 2, 3], 28))
yc = alt.Y("y:Q", scale=syc, axis=num_axis([0, 2, 4, 6, 8], 31))
black_pts = alt.Chart(pd.DataFrame({"x": all_bx, "y": all_by})).mark_circle(size=115, color="black", opacity=1).encode(x=xc, y=yc)
red_pts = alt.Chart(pd.DataFrame({"x": red_x, "y": red_y})).mark_circle(size=110, color="#E8400C", opacity=1).encode(x=xc, y=yc)
green_pts = alt.Chart(pd.DataFrame({"x": green_x, "y": green_y})).mark_circle(size=110, color="#7AC625", opacity=1).encode(x=xc, y=yc)
BLUE = "#3A55B0"
vrules = alt.Chart(pd.DataFrame({"x": vlines})).mark_rule(color=BLUE, strokeWidth=1.5).encode(x=xc)
hrule = alt.Chart(pd.DataFrame({"y": p_line})).mark_rule(color=BLUE, strokeWidth=1.5).encode(y=yc)
lab_c = lambda names, xs, ys, al: alt.Chart(pd.DataFrame({"n": names, "x": xs, "y": ys})).mark_text(
    font=FONT, fontSize=20, align=al, baseline="middle", color="#111").encode(x=xc, y=yc, text="n:N")
arrow = alt.Chart(pd.DataFrame({"x": [-0.51], "x2": [-0.33], "y": [3.76], "y2": [3.88]})).mark_rule(color="black", strokeWidth=1.6).encode(
    x=xc, x2="x2:Q", y=yc, y2="y2:Q")
head = alt.Chart(pd.DataFrame({"x": [-0.325], "y": [3.89]})).mark_point(shape="triangle-up", filled=True, size=45, angle=70, color="black", opacity=1).encode(x=xc, y=yc)


def piece(t, x, y, size=28, style="normal", angle=0):
    return alt.Chart(pd.DataFrame({"t": [t], "x": [x], "y": [y]})).mark_text(
        font=FONT, fontSize=size, fontStyle=style, align="left", baseline="middle", color="black", angle=angle
    ).encode(x=xc, y=yc, text="t:N")


panel_c = alt.layer(
    black_pts, red_pts, green_pts, vrules, hrule,
    lab_c(red_names[:4] + red_names[5:], red_lab_x[:4] + red_lab_x[5:], red_lab_y[:4] + red_lab_y[5:], "left"),
    lab_c(["Gc"], [red_lab_x[4]], [red_lab_y[4]], "left"),
    lab_c(green_names, green_lab_x, green_lab_y, "right"),
    arrow, head,
    piece("p", 2.07, 0.99, style="italic"), piece("=0.05", 2.21, 0.99),
    piece("log", -0.496, -1.90), piece("2", -0.14, -2.02, 18), piece("(FC)", -0.04, -1.90),
    piece("log", -4.05, 3.59, angle=270), piece("10", -3.97, 4.19, 18, angle=270),
    piece("(", -4.05, 4.51, angle=270), piece("p", -4.05, 4.66, style="italic", angle=270),
    piece("-value)", -4.05, 4.91, angle=270),
    letter("c", -104, 3),
).properties(width=658, height=652, view=frame)

# ---------- panel d chart ----------
sxd = alt.Scale(domain=[0, 8], nice=False, zero=False)
syd = alt.Scale(domain=[146, -7.894], nice=False, zero=False)
heat_df = pd.DataFrame([dict(x=c, x2=c + 1, y=r, y2=r + 1, v=heat_rows[r][c]) for r in range(146) for c in range(8)])
xd = alt.X("x:Q", scale=sxd, axis=None)
yd = alt.Y("y:Q", scale=syd, axis=None)
heat = alt.Chart(heat_df).mark_rect().encode(
    x=xd, x2="x2:Q", y=yd, y2="y2:Q",
    color=alt.Color("v:Q",
                    scale=alt.Scale(domain=color_stops, range=color_values),
                    legend=alt.Legend(orient="none", legendX=1716, legendY=99, direction="vertical", title=None,
                                      gradientLength=480, gradientThickness=31, gradientStrokeWidth=0,
                                      values=[-2, -1, 0, 1, 2], labelFont=FONT, labelFontSize=24, labelColor="black",
                                      labelAlign="right", labelOffset=0, labelOverlap=False, tickCount=5,
                                      labelExpr="'' + datum.value")),
)
top_den = alt.Chart(top_df).mark_rule(color="black", strokeWidth=2.4).encode(x=xd, x2="x2:Q", y=yd, y2="y2:Q")
left_den = alt.Chart(left_df).mark_rule(color="black", strokeWidth=2).encode(x=xd, x2="x2:Q", y=yd, y2="y2:Q")
gene_df = pd.DataFrame({"g": genes, "y": [i + 0.5 for i in range(146)], "x": [8.09] * 146})
gene_txt = alt.Chart(gene_df).mark_text(font=FONT, fontSize=9.6, align="left", baseline="middle", color="#111").encode(x=xd, y=yd, text="g:N")
col_df = pd.DataFrame({"s": samples, "x": [i + 0.5 for i in range(8)], "y": [147.55] * 8})
col_txt = alt.Chart(col_df).mark_text(font=FONT, fontSize=27, align="left", baseline="middle", angle=90, color="black").encode(x=xd, y=yd, text="s:N")
panel_d = alt.layer(heat, top_den, left_den, gene_txt, col_txt, letter("d", -111, -8)).properties(width=736, height=1955)

left_col = alt.vconcat(panel_a, panel_b, panel_c, spacing=156, bounds="flush")
chart = alt.hconcat(left_col, panel_d, spacing=100).properties(
    padding={"left": 66, "top": -13, "right": 0, "bottom": -1}
).configure_view(stroke="transparent")

chart.save("out.html", embed_options={"renderer": "svg", "actions": False})
